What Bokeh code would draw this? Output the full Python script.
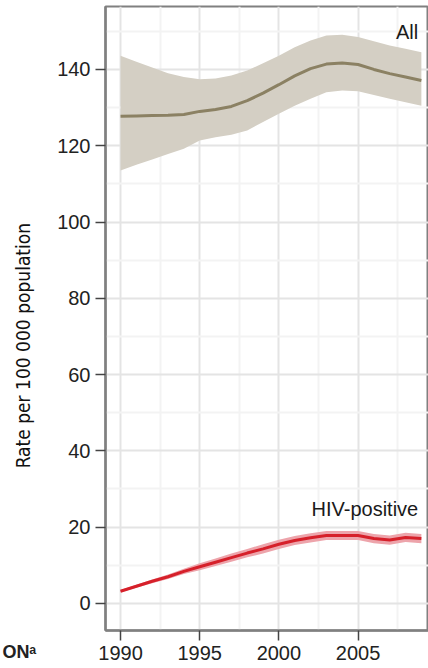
from bokeh.plotting import figure
from bokeh.models import ColumnDataSource, Range1d, FixedTicker, Label
from bokeh.embed import file_html
from bokeh.resources import INLINE

years = list(range(1990, 2010))
all_mid = [127.7, 127.8, 127.9, 128.0, 128.2, 129.0, 129.5, 130.3, 131.8, 133.8,
           136.0, 138.3, 140.2, 141.4, 141.7, 141.3, 140.0, 138.9, 138.0, 137.1]
all_hi = [143.6, 142.0, 140.5, 139.0, 138.0, 137.4, 137.6, 138.4, 139.7, 141.6,
          143.6, 145.8, 147.6, 148.9, 149.1, 148.5, 147.4, 146.3, 145.4, 144.5]
all_lo = [113.5, 115.0, 116.4, 117.8, 119.2, 121.4, 122.2, 122.9, 124.0, 126.2,
          128.4, 130.5, 132.3, 134.0, 134.5, 134.3, 133.3, 132.3, 131.4, 130.5]
hiv_mid = [3.2, 4.5, 5.8, 7.0, 8.4, 9.6, 10.8, 12.0, 13.2, 14.3,
           15.5, 16.5, 17.2, 17.8, 17.8, 17.8, 17.0, 16.6, 17.3, 17.0]
hiv_hi = [3.5, 4.9, 6.3, 7.6, 9.1, 10.5, 11.8, 13.1, 14.3, 15.5,
          16.7, 17.7, 18.4, 19.0, 19.0, 19.0, 18.2, 17.8, 18.5, 18.2]
hiv_lo = [2.9, 4.1, 5.3, 6.4, 7.7, 8.7, 9.8, 10.9, 12.1, 13.1,
          14.3, 15.3, 16.0, 16.6, 16.6, 16.6, 15.8, 15.4, 16.1, 15.8]
x_ticks = [1990, 1995, 2000, 2005]
y_ticks = [0, 20, 40, 60, 80, 100, 120, 140]
series_labels = ["All", "HIV-positive"]
y_title = "Rate per 100 000 population"
cut_text = "ONᵃ"

NBSP = "\u00a0"

src = ColumnDataSource(dict(x=years, am=all_mid, ah=all_hi, al=all_lo,
                            hm=hiv_mid, hh=hiv_hi, hl=hiv_lo))

p = figure(width=428, height=668, output_backend="svg", toolbar_location=None,
           x_range=Range1d(1989.05, 2009.45), y_range=Range1d(-7.1, 156.5),
           min_border_left=105, min_border_right=0, min_border_top=6, min_border_bottom=38)

p.background_fill_color = "white"
p.border_fill_color = "white"
p.outline_line_color = "#808080"
p.outline_line_width = 2

p.varea(x="x", y1="al", y2="ah", source=src, fill_color="#d4cfc4")
p.line(x="x", y="am", source=src, line_color="#8b8163", line_width=3)
p.varea(x="x", y1="hl", y2="hh", source=src, fill_color="#eda4ab")
p.line(x="x", y="hm", source=src, line_color="#d6202a", line_width=3)

p.add_layout(Label(x=2008.8, y=147, text=series_labels[0], text_align="right",
                   text_font="Liberation Sans", text_font_size="20px",
                   text_color="#1a1a1a"))
p.add_layout(Label(x=2008.8, y=21.8, text=series_labels[1], text_align="right",
                   text_font="Liberation Sans", text_font_size="20px",
                   text_color="#1a1a1a"))

for ax in (p.xaxis[0], p.yaxis[0]):
    ax.axis_line_color = "#808080"
    ax.axis_line_width = 2.5
    ax.major_tick_line_color = "#444444"
    ax.major_tick_line_width = 1.5
    ax.major_tick_out = 10
    ax.major_tick_in = 0
    ax.minor_tick_line_color = None
    ax.major_label_text_font = "Liberation Sans"
    ax.major_label_text_font_size = "20px"
    ax.major_label_text_color = "#222222"
    ax.major_label_standoff = 5

p.xaxis[0].ticker = FixedTicker(ticks=x_ticks, minor_ticks=[1992.5, 1997.5, 2002.5, 2007.5])
p.yaxis[0].ticker = FixedTicker(ticks=y_ticks, minor_ticks=[-10, 10, 30, 50, 70, 90, 110, 130, 150])

# y title: trailing non-breaking spaces shift the visible text below the frame centre
p.yaxis[0].axis_label = y_title + NBSP * 10
p.yaxis[0].axis_label_text_font = "DejaVu Sans Condensed"
p.yaxis[0].axis_label_text_font_size = "19px"
p.yaxis[0].axis_label_text_font_style = "normal"
p.yaxis[0].axis_label_text_color = "#111111"
p.yaxis[0].axis_label_standoff = 20

# cropped caption fragment at bottom-left, carried by the x axis label
p.xaxis[0].axis_label = cut_text + NBSP * 99
p.xaxis[0].axis_label_text_font = "Liberation Sans"
p.xaxis[0].axis_label_text_font_size = "18px"
p.xaxis[0].axis_label_text_font_style = "bold"
p.xaxis[0].axis_label_text_color = "#222222"
p.xaxis[0].axis_label_standoff = -21

for g in (p.xgrid[0], p.ygrid[0]):
    g.grid_line_color = "#e4e4e4"
    g.grid_line_width = 2
    g.minor_grid_line_color = "#f3f3f3"
    g.minor_grid_line_width = 2

open("out.html", "w").write(file_html(p, INLINE))
